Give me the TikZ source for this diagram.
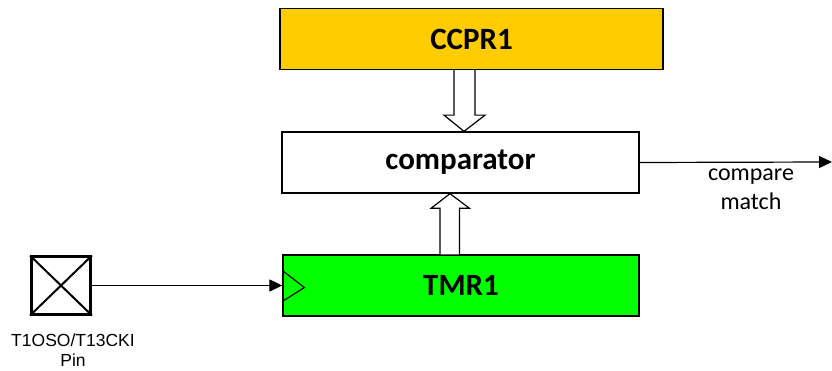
\documentclass[tikz,border=0pt]{standalone}
\usepackage{fontspec}
\setmainfont{Carlito}
\newfontfamily\arialfont{Liberation Sans}
\usetikzlibrary{arrows.meta,calc}
\definecolor{ccpryellow}{HTML}{FFCC00}
\definecolor{tmrgreen}{HTML}{00FF00}
\begin{document}
\begin{tikzpicture}[x=1pt,y=-1pt,
  blk/.style={draw=black,line width=1.3pt,minimum width=#1,minimum height=61pt,inner sep=0pt,font=\fontsize{31}{34}\selectfont\bfseries},
  blk/.default=357pt,
  hollow/.style={draw=black,fill=white,line width=1.2pt,line join=miter},
  conn/.style={line width=1.2pt,-{Triangle[length=13pt,width=12pt]}},
  lbl/.style={font=\fontsize{24}{29}\selectfont,align=center,inner sep=0pt},
  pinlbl/.style={font=\arialfont\fontsize{17.5}{20}\selectfont,align=center,inner sep=0pt}]
\useasboundingbox (0,0) rectangle (832,371);
\node[blk=383pt,fill=ccpryellow] (ccpr) at (471.5,39) {CCPR1};
\node[blk,fill=white] (comp) at (460.5,162.5) {comparator};
\node[blk=356pt,fill=tmrgreen] (tmr) at (461,285.5) {TMR1};
% hollow arrow CCPR1 -> comparator
\draw[hollow] ($(ccpr.south)+(-17.5,0)$) -- ++(0,45) -- ++(-10,0)
  -- ($(comp.north)+(3.5,0)$) -- ($(ccpr.south)+(13.5,45)$) -- ++(-10,0)
  -- ($(ccpr.south)+(3.5,0)$);
% hollow arrow TMR1 -> comparator
\draw[hollow] ($(tmr.north)+(-21,0)$) -- ++(0,-46) -- ++(-9,0)
  -- ($(comp.south)+(-10.5,0)$) -- ($(tmr.north)+(8.5,-46)$) -- ++(-10,0)
  -- ($(tmr.north)+(-1.5,0)$);
% clock triangle
\draw[line width=1.2pt] ($(tmr.west)+(0,-15)$) -- ($(tmr.west)+(22,2)$) -- ($(tmr.west)+(0,16)$);
% compare match output
\coordinate (out) at (832,162);
\draw[conn] (comp.east) -- (out);
\node[lbl] (cmtxt) at (751,189) {compare\\match};
% pin
\node[draw=black,line width=3pt,minimum width=59pt,minimum height=57pt,inner sep=0pt] (pin) at (61,285.5) {};
\draw[line width=2pt] (pin.north west) -- (pin.south east) (pin.north east) -- (pin.south west);
\node[pinlbl] (pintxt) at (73,350) {T1OSO/T13CKI\\Pin};
\draw[conn] (pin.east) -- (pin.east -| tmr.west);
\end{tikzpicture}
\end{document}
